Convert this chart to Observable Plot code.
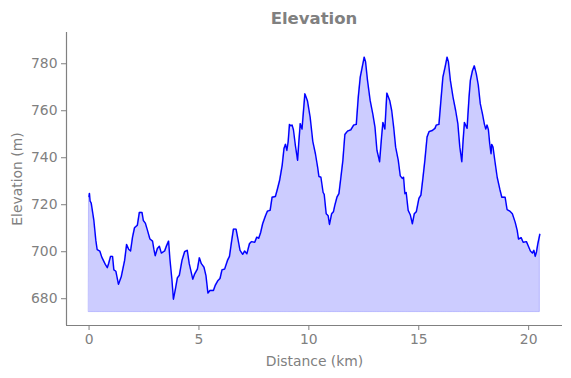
<!DOCTYPE html>
<html>
<head>
<meta charset="utf-8">
<script src="https://cdn.jsdelivr.net/npm/d3@7"></script>
<script src="https://cdn.jsdelivr.net/npm/@observablehq/plot@0.6"></script>
<style>
  html, body { margin: 0; padding: 0; background: #fff; }
  #wrap { width: 571px; }
  #title { height: 26px; width: 571px; position: relative; font-family: "DejaVu Sans", sans-serif; font-weight: bold; font-size: 16.5px; color: #808080; }
  #title span { position: absolute; left: 314px; top: 9px; transform: translateX(-50%); white-space: nowrap; }
</style>
</head>
<body>
<div id="wrap">
  <div id="title"><span>Elevation</span></div>
  <div id="chart"></div>
</div>
<script>
const distanceKm = [
  0.00, 0.02, 0.05, 0.10, 0.22, 0.31, 0.37, 0.49, 0.58, 0.74, 0.83, 0.89, 0.98, 1.07, 1.13, 1.22, 1.34, 1.47, 1.62, 1.71,
  1.80, 1.89, 1.98, 2.07, 2.20, 2.29, 2.41, 2.47, 2.56, 2.65, 2.77, 2.89, 2.95, 3.01, 3.11, 3.20, 3.29, 3.44, 3.53, 3.62,
  3.68, 3.77, 3.84, 3.93, 4.02, 4.11, 4.23, 4.35, 4.47, 4.56, 4.72, 4.81, 4.93, 5.02, 5.11, 5.23, 5.32, 5.41, 5.50, 5.66,
  5.75, 5.87, 5.96, 6.05, 6.17, 6.30, 6.39, 6.48, 6.57, 6.69, 6.78, 6.87, 6.99, 7.08, 7.18, 7.30, 7.39, 7.54, 7.63, 7.72,
  7.81, 7.90, 8.03, 8.12, 8.24, 8.33, 8.48, 8.57, 8.67, 8.79, 8.87, 8.94, 9.00, 9.06, 9.12, 9.18, 9.24, 9.30, 9.39, 9.49,
  9.54, 9.61, 9.69, 9.82, 9.94, 10.06, 10.18, 10.30, 10.40, 10.46, 10.55, 10.65, 10.70, 10.79, 10.88, 10.94, 11.04, 11.12, 11.18, 11.28,
  11.37, 11.46, 11.55, 11.64, 11.76, 11.91, 12.04, 12.16, 12.25, 12.34, 12.43, 12.52, 12.58, 12.67, 12.79, 12.91, 13.01, 13.10, 13.22, 13.31,
  13.37, 13.46, 13.55, 13.68, 13.77, 13.86, 13.95, 14.07, 14.16, 14.25, 14.31, 14.37, 14.43, 14.52, 14.62, 14.71, 14.80, 14.89, 15.01, 15.10,
  15.19, 15.28, 15.38, 15.47, 15.62, 15.74, 15.80, 15.92, 16.01, 16.10, 16.20, 16.29, 16.35, 16.44, 16.56, 16.68, 16.78, 16.87, 16.96, 17.02,
  17.08, 17.20, 17.29, 17.35, 17.44, 17.53, 17.62, 17.71, 17.80, 17.90, 17.99, 18.05, 18.11, 18.17, 18.23, 18.29, 18.32, 18.38, 18.47, 18.57,
  18.69, 18.78, 18.93, 19.02, 19.14, 19.26, 19.39, 19.48, 19.54, 19.66, 19.75, 19.90, 19.99, 20.08, 20.17, 20.24, 20.30, 20.36, 20.42, 20.51
];
const elevationM = [
  723.5, 724.8, 721.5, 720.7, 713.3, 704.8, 700.9, 700.3, 697.7, 694.6, 693.2, 694.9, 698.0, 698.0, 692.3, 691.7, 686.1, 689.5, 696.3, 703.1,
  701.1, 700.3, 706.2, 710.2, 711.3, 716.7, 716.7, 713.3, 712.2, 709.4, 705.4, 704.5, 701.1, 698.3, 701.4, 702.3, 699.4, 700.3, 702.6, 704.5,
  696.9, 688.3, 679.8, 684.1, 688.9, 690.0, 696.3, 700.0, 700.6, 694.9, 688.3, 690.6, 692.6, 697.4, 694.9, 693.4, 689.8, 682.4, 683.5, 683.5,
  685.8, 687.8, 688.6, 692.3, 692.6, 696.3, 698.0, 704.0, 709.6, 709.6, 705.1, 700.6, 698.9, 700.3, 699.1, 703.4, 704.3, 704.0, 706.2, 705.7,
  708.2, 711.9, 715.3, 717.3, 717.6, 723.2, 723.5, 726.6, 730.3, 736.9, 743.9, 745.7, 743.1, 746.8, 754.2, 753.6, 753.9, 751.9, 745.1, 738.9,
  746.0, 754.5, 752.2, 767.2, 764.1, 757.3, 747.0, 741.7, 736.0, 732.0, 731.7, 725.2, 724.4, 716.2, 715.3, 711.6, 716.2, 717.0, 719.6, 723.2,
  724.7, 731.7, 738.9, 749.9, 751.3, 751.9, 753.9, 754.2, 765.8, 774.3, 778.6, 782.8, 780.9, 772.9, 764.4, 758.7, 753.0, 743.1, 738.3, 748.8,
  755.0, 752.2, 767.5, 764.4, 760.1, 753.0, 744.5, 738.9, 732.3, 731.2, 731.7, 724.7, 725.2, 717.6, 715.6, 711.9, 716.2, 717.0, 722.7, 724.1,
  731.2, 738.9, 748.8, 751.1, 751.6, 752.5, 753.9, 754.2, 764.4, 774.3, 778.6, 782.8, 780.9, 772.9, 765.8, 760.1, 754.5, 744.5, 738.3, 747.4,
  755.0, 752.5, 765.8, 772.9, 776.9, 779.1, 775.7, 770.9, 763.0, 758.7, 754.2, 752.2, 753.9, 751.9, 746.0, 741.7, 745.7, 744.5, 738.3, 731.7,
  726.6, 723.2, 723.2, 717.9, 717.3, 716.2, 712.5, 709.1, 705.4, 706.0, 704.0, 704.3, 702.3, 700.3, 699.4, 700.6, 698.0, 700.0, 703.4, 707.4
];
const xTicks = [0, 5, 10, 15, 20];
const yTicks = [680, 700, 720, 740, 760, 780];
const baseElevation = 674.3;
const xDomain = [-1.026, 21.54];
const yDomain = [668.6, 793.3];

const profile = distanceKm.map((d, i) => ({distance: d, elevation: elevationM[i]}));
const gray = "#808080";

const chart = Plot.plot({
  width: 571,
  height: 352,
  marginLeft: 66,
  marginRight: 9,
  marginTop: 6,
  marginBottom: 53,
  style: {fontFamily: "DejaVu Sans, sans-serif", fontSize: "13.9px", color: gray, background: "#fff"},
  x: {domain: xDomain},
  y: {domain: yDomain},
  marks: [
    Plot.areaY(profile, {x: "distance", y1: baseElevation, y2: "elevation", fill: "blue", fillOpacity: 0.2, stroke: "blue", strokeOpacity: 0.2, strokeWidth: 1}),
    Plot.lineY(profile, {x: "distance", y: "elevation", stroke: "blue", strokeWidth: 1.4}),
    Plot.ruleX([xDomain[0]], {stroke: gray, strokeWidth: 1.2}),
    Plot.ruleY([yDomain[0]], {stroke: gray, strokeWidth: 1.2}),
    Plot.axisX({ticks: xTicks, tickSize: 5, tickPadding: 4, stroke: gray, fill: gray, fontSize: 13.9, label: "Distance (km)", labelAnchor: "center", labelOffset: 40, labelArrow: "none"}),
    Plot.axisY({ticks: yTicks, tickSize: 5, tickPadding: 4, stroke: gray, fill: gray, fontSize: 13.9, label: "Elevation (m)", labelAnchor: "center", labelOffset: 54, labelArrow: "none"})
  ]
});
document.getElementById("chart").appendChild(chart);
</script>
</body>
</html>
